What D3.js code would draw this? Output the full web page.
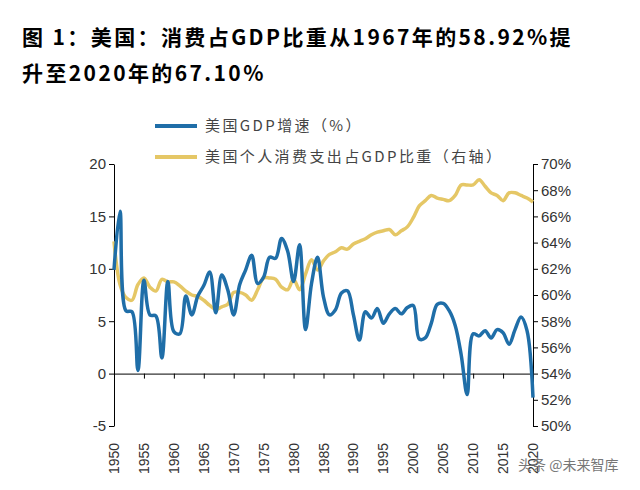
<!DOCTYPE html>
<html><head><meta charset="utf-8">
<script src="https://cdn.jsdelivr.net/npm/d3@7"></script>
<style>body{margin:0;background:#fff;font-family:"Liberation Sans",Arial,sans-serif}</style>
</head><body>
<script>
const years = d3.range(1950, 2021);
const gdpGrowth = [9.9,15.5,6,5.9,0.3,8.9,5.6,5.5,1.5,8.8,4.0,3.8,7.4,5.6,7.4,8.4,9.7,5.8,9.4,8.0,
  5.6,8.5,9.9,11.3,8.6,9.2,11.1,11.0,12.9,11.7,8.8,12.3,4.2,8.6,11.1,7.3,5.6,6.1,7.7,7.9,
  5.6,3.2,5.9,5.3,6.2,4.8,5.7,6.2,5.7,6.3,6.5,3.3,3.4,4.8,6.6,6.7,6.0,4.6,1.8,-2.0,
  3.8,3.6,4.1,3.4,4.2,3.9,2.8,4.2,5.4,4.1,-2.3];
const consShare = [64.1,60.8,59.8,59.6,60.8,61.3,60.6,60.3,61.2,61.0,61.0,60.7,60.3,60.0,59.9,59.6,59.2,58.9,59.1,59.3,
  60.2,60.2,60.0,59.6,60.4,61.3,61.3,61.2,60.6,60.4,61.2,60.4,61.6,62.7,61.9,62.6,63.1,63.3,63.6,63.5,
  63.9,64.1,64.3,64.6,64.8,64.9,65.0,64.6,64.9,65.2,65.9,66.8,67.2,67.6,67.4,67.3,67.2,67.6,68.4,68.4,
  68.4,68.8,68.3,67.8,67.6,67.2,67.8,67.8,67.6,67.4,67.1];
const leftTicks = [-5,0,5,10,15,20];
const rightTicks = [50,52,54,56,58,60,62,64,66,68,70];
const xTicks = d3.range(1950, 2021, 5);

const svg = d3.select("body").append("svg").attr("width",640).attr("height",490);
const blue = "#1f6ea8", yellow = "#e5c766";

svg.append("text").attr("x",22).attr("y",45).attr("font-size",21).attr("font-weight","bold")
  .attr("letter-spacing",2.4).attr("font-family","Noto Sans CJK SC").text("图 1：美国：消费占GDP比重从1967年的58.92%提");
svg.append("text").attr("x",22).attr("y",81).attr("font-size",21).attr("font-weight","bold")
  .attr("letter-spacing",2.4).attr("font-family","Noto Sans CJK SC").text("升至2020年的67.10%");

const x = d3.scaleLinear().domain([1950,2020]).range([114,533]);
const yL = d3.scaleLinear().domain([-5,20]).range([426,164]);
const yR = d3.scaleLinear().domain([50,70]).range([426,164]);

const gl = svg.append("g").attr("transform","translate(114,0)")
  .call(d3.axisLeft(yL).tickValues(leftTicks).tickSize(5).tickSizeOuter(0).tickFormat(d => String(d)));
const gr = svg.append("g").attr("transform","translate(533,0)")
  .call(d3.axisRight(yR).tickValues(rightTicks).tickSize(5).tickSizeOuter(0).tickFormat(d => d + "%"));
const gx = svg.append("g").attr("transform",`translate(0,${yL(0)})`)
  .call(d3.axisBottom(x).tickValues(xTicks).tickSize(5).tickFormat("").tickSizeOuter(0));
[gl,gr,gx].forEach(g => {
  g.selectAll("path,line").attr("stroke","#000");
  g.selectAll("text").attr("font-size",15).attr("fill","#333").attr("font-family","Liberation Sans");
});
svg.append("g").selectAll("text").data(xTicks).join("text")
  .attr("transform", d => `translate(${x(d)+5},474) rotate(-90)`)
  .attr("font-size",14).attr("fill","#333").text(d => d);

const lineL = d3.line().x((d,i) => x(years[i])).y(d => yL(d)).curve(d3.curveCatmullRom);
const lineR = d3.line().x((d,i) => x(years[i])).y(d => yR(d)).curve(d3.curveCatmullRom);
svg.append("path").attr("d",lineR(consShare)).attr("fill","none").attr("stroke",yellow).attr("stroke-width",3.5);
svg.append("path").attr("d",lineL(gdpGrowth)).attr("fill","none").attr("stroke",blue).attr("stroke-width",3.5);

const leg = [{c:blue,t:"美国GDP增速（%）",y:126},{c:yellow,t:"美国个人消费支出占GDP比重（右轴）",y:157}];
leg.forEach(l => {
  svg.append("line").attr("x1",155).attr("x2",197).attr("y1",l.y).attr("y2",l.y).attr("stroke",l.c).attr("stroke-width",4);
  svg.append("text").attr("x",205).attr("y",l.y+5).attr("font-size",15).attr("letter-spacing",2.4).attr("fill","#444")
    .attr("font-family","Noto Sans CJK SC").text(l.t);
});
svg.append("text").attr("x",518).attr("y",470).attr("font-size",14).attr("fill","#777")
  .attr("font-family","Noto Sans CJK SC").text("头条 @未来智库");
</script>
</body></html>
